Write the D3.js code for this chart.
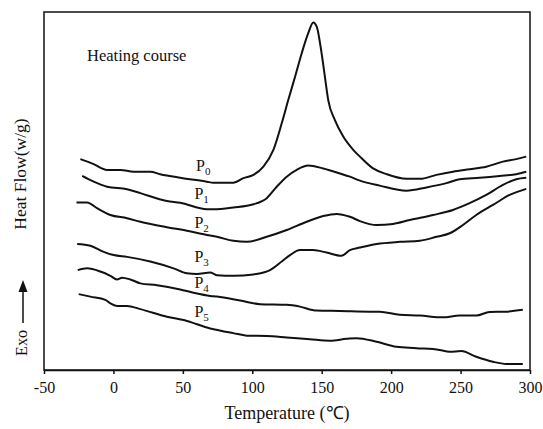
<!DOCTYPE html>
<html>
<head>
<meta charset="utf-8">
<script src="https://cdn.jsdelivr.net/npm/d3@7/dist/d3.min.js"></script>
<style>
  body { margin: 0; background: #fff; }
  #chart { width: 543px; height: 429px; }
  text { font-family: "Liberation Serif", "Times New Roman", serif; fill: #111; }
</style>
</head>
<body>
<div id="chart"></div>
<script>
var width = 543;
var height = 429;

var margin = { top: 12, right: 13, bottom: 59, left: 44 };

// tick labels on the temperature axis
var xTicks = [-50, 0, 50, 100, 150, 200, 250, 300];

// series names
var names = ["P0", "P1", "P2", "P3", "P4", "P5"];

// [temperature, heat flow (arbitrary units, curves offset)]
var p0 = [[-23.8,58.9],[-14.2,57.5],[-4.6,55.9],[5,55.9],[14.5,55.4],[26.5,55.4],[33.7,54.7],
  [48.1,53.7],[67.3,52.6],[72,52.3],[86.4,52.3],[93.6,53.6],[100.8,54.5],[108,56.8],[115.2,61.5],
  [121.2,68.9],[125.9,75.4],[130.8,81.9],[135.6,88.5],[140.3,94.1],[143.9,97.1],[146.4,95.9],
  [149.9,88.5],[152.3,81.9],[154.7,75.4],[159.5,69.8],[165.5,65.2],[172.7,61.5],[177.5,59.6],
  [187,56.3],[196.7,54.7],[211,53.4],[220.6,53.4],[232.6,54.5],[244.5,55.4],[256.5,56.1],
  [268.5,56.8],[280.5,58.2],[290.1,58.9],[297.3,59.6]];

var p1 = [[-22.5,54.2],[-14.2,52.6],[-4.6,51.2],[9.8,50.5],[19.4,49.4],[38.5,47.2],[48.1,46.7],
  [67.3,44.9],[72,44.9],[86.4,45.4],[100.8,46.3],[110.4,48],[117.6,51.2],[124.8,54],[132,55.9],
  [140.3,57.1],[151.1,56.3],[163.1,54.9],[170.3,54],[177.5,52.9],[191.8,51.5],[211,50.1],
  [225.4,51],[239.8,52.2],[249.3,53.3],[263.7,53.7],[278.1,54.2],[290.1,54.7],[297.3,55.4]];

var p2 = [[-26.6,46.8],[-19,46.8],[-11.8,45.2],[-2.2,43.3],[9.8,42.4],[19.4,41.4],[38.5,39.9],
  [52.9,38.9],[67.3,37.7],[74.5,37.2],[86.4,36.1],[96,35.8],[110.4,37.2],[124.8,39.1],
  [139.2,41.4],[151.1,43],[160.7,43.6],[170.3,42.8],[177.5,41.6],[189.5,40.5],[201.4,40.8],
  [213.4,41.9],[230.2,43.3],[244.5,44.7],[256.5,46.6],[268.5,48.9],[280.5,51.7],[290.1,53.3],
  [297.3,53.7]];

var p3 = [[-26.1,35.2],[-16.6,34.7],[-7,33],[0.2,32.1],[9.8,31.6],[26.5,30.3],[43.3,28.4],
  [52.9,27],[60.1,26.8],[69.7,27.2],[74.5,26.5],[86.4,26.3],[100.8,26.7],[112.8,27.9],
  [121.2,30.3],[127.2,32.1],[134.3,33.5],[143.9,33.5],[153.5,32.8],[164.3,31.9],[170.3,33.5],
  [177.5,34.2],[189.5,35.2],[206.2,35.8],[220.6,36.1],[232.6,37.2],[242.2,38.2],[251.7,40.5],
  [261.3,43.3],[273.3,46.1],[285.3,48.9],[297.3,50.6]];

var p4 = [[-25.7,27.9],[-19,28.4],[-9.4,27.5],[-2.2,26.3],[2.6,25.3],[6.2,25.8],[12.2,25.3],
  [19.4,24.2],[31.4,23.7],[48.1,22.5],[57.7,21.6],[69.7,20.7],[74.5,20.5],[91.2,19.4],
  [105.6,18.4],[124.8,18.2],[134.3,17.7],[146.3,16.6],[163.1,16.5],[184.6,16.3],[191.8,16.3],
  [206.2,15.4],[220.6,15.2],[237.4,14.7],[249.3,15.2],[261.3,15.2],[270.9,16.2],[282.9,16.3],
  [294.8,16.8]];

var p5 = [[-25,21.2],[-16.6,20.5],[-5.8,19.6],[-2.2,18.6],[2.6,17.9],[9.8,17.9],[19.4,17],
  [38.5,14.9],[52.9,13.7],[69.7,11.6],[72,11.4],[86.4,10.3],[96,9.6],[110.4,9.5],[124.8,9.1],
  [141.5,8.6],[155.9,8.2],[167.9,8.7],[175.1,8.9],[189.5,7.9],[203.8,6.5],[218.2,6.1],
  [234.9,5.6],[242.1,5.1],[250.5,5.3],[261.3,3.7],[273.3,2.3],[282.9,1.7],[294.8,1.7]];

// label anchor for each curve: [temperature, heat flow]
var labelPos = [[59.5,55.6],[58.3,47.8],[58.3,39.6],[58.3,30.3],[58.3,22.8],[58.3,14.9]];

var series = [p0, p1, p2, p3, p4, p5];

var svg = d3.select("#chart")
  .append("svg")
  .attr("width", width)
  .attr("height", height);

var xScale = d3.scaleLinear()
  .domain([-50, 300])
  .range([margin.left, width - margin.right]);

var yScale = d3.scaleLinear()
  .domain([0, 100])
  .range([height - margin.bottom, margin.top]);

// frame
svg.append("rect")
  .attr("x", margin.left)
  .attr("y", margin.top)
  .attr("width", width - margin.left - margin.right)
  .attr("height", height - margin.top - margin.bottom)
  .attr("fill", "none")
  .attr("stroke", "#111")
  .attr("stroke-width", 1.5);

var xAxis = svg.append("g")
  .attr("transform", `translate(0,${height - margin.bottom})`)
  .call(d3.axisBottom(xScale)
    .tickValues(xTicks)
    .tickFormat(function(d) { return String(d); })
    .tickSize(4)
    .tickSizeOuter(0)
    .tickPadding(8));

xAxis.select(".domain").attr("stroke", "#111").attr("stroke-width", 1.5);
xAxis.selectAll(".tick line").attr("stroke", "#111").attr("stroke-width", 1.5);
xAxis.selectAll(".tick text")
  .style("font-family", "Liberation Serif")
  .style("font-size", "16px")
  .attr("fill", "#111");

var line = d3.line()
  .x(function(d) { return xScale(d[0]); })
  .y(function(d) { return yScale(d[1]); })
  .curve(d3.curveMonotoneX);

svg.selectAll("path.curve")
  .data(series)
  .enter()
  .append("path")
    .attr("class", "curve")
    .attr("d", line)
    .attr("fill", "none")
    .attr("stroke", "#111")
    .attr("stroke-width", 2);

// P labels with subscripts
var labels = svg.selectAll("text.plabel")
  .data(names)
  .enter()
  .append("text")
    .attr("class", "plabel")
    .attr("x", function(d, i) { return xScale(labelPos[i][0]); })
    .attr("y", function(d, i) { return yScale(labelPos[i][1]); })
    .style("font-size", "16px");

labels.append("tspan").text("P");
labels.append("tspan")
  .attr("dy", 4)
  .style("font-size", "11px")
  .text(function(d) { return d.slice(1); });

svg.append("text")
  .attr("x", 87)
  .attr("y", 61)
  .style("font-size", "16.5px")
  .text("Heating course");

svg.append("text")
  .attr("x", (margin.left + width - margin.right) / 2)
  .attr("y", 419)
  .attr("text-anchor", "middle")
  .style("font-size", "18px")
  .text("Temperature (℃)");

svg.append("text")
  .attr("transform", "rotate(-90)")
  .attr("x", -174)
  .attr("y", 26)
  .attr("text-anchor", "middle")
  .style("font-size", "17.5px")
  .text("Heat Flow(w/g)");

svg.append("text")
  .attr("transform", "rotate(-90)")
  .attr("x", -343)
  .attr("y", 27)
  .attr("text-anchor", "middle")
  .style("font-size", "16px")
  .text("Exo");

// exo arrow
svg.append("line")
  .attr("x1", 23).attr("y1", 323)
  .attr("x2", 23).attr("y2", 290)
  .attr("stroke", "#111")
  .attr("stroke-width", 1.5);

svg.append("path")
  .attr("d", "M23,280 L18.5,292 L27.5,292 Z")
  .attr("fill", "#111");
</script>
</body>
</html>
